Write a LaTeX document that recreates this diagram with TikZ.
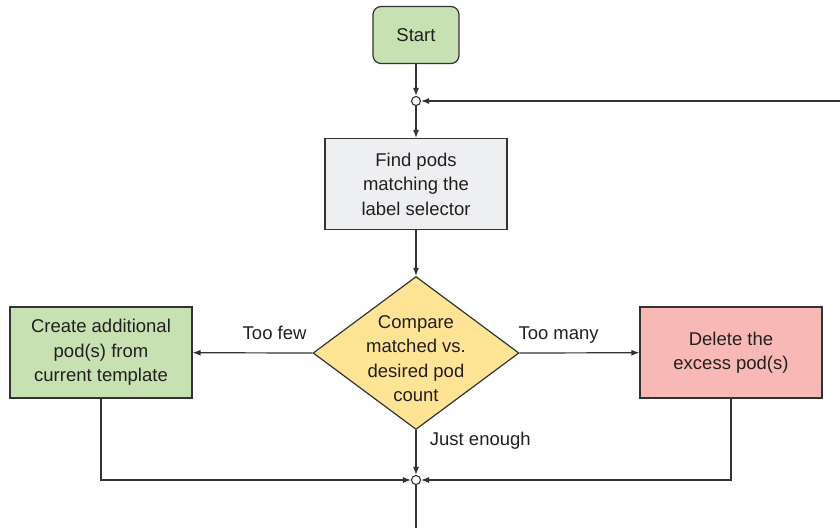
\documentclass[tikz,border=0pt]{standalone}
\usepackage{fontspec}
\setmainfont{Liberation Sans}
\usetikzlibrary{shapes.geometric,arrows.meta}
\definecolor{linegray}{RGB}{51,51,51}
\definecolor{textgray}{RGB}{35,31,32}
\definecolor{okgreen}{RGB}{199,225,178}
\definecolor{findgray}{RGB}{238,239,241}
\definecolor{cmpyellow}{RGB}{255,228,150}
\definecolor{delred}{RGB}{248,184,181}
\begin{document}
\begin{tikzpicture}[x=1pt,y=-1pt,
  every node/.style={font=\fontsize{18.5}{24.5}\selectfont,text=textgray},
  box/.style={draw=linegray,line width=1.2pt,align=center,inner sep=0pt,
    minimum width=182pt,minimum height=91pt},
  junction/.style={circle,draw=linegray,fill=white,line width=1.1pt,
    inner sep=0pt,minimum size=9pt},
  flow/.style={draw=linegray,line width=1.2pt,-{Latex[length=8pt,width=6pt]}},
  plain/.style={draw=linegray,line width=1.2pt}]
\useasboundingbox (0,0) rectangle (840,528);

\node[box,rounded corners=8pt,fill=okgreen,minimum width=86pt,minimum height=57pt] (start) at (416,35) {Start};
\node[junction] (top) at (416,101) {};
\coordinate (back) at (840,101);
\node[box,fill=findgray] (find) at (416,184) {Find pods\\matching the\\label selector};
\node[diamond,draw=linegray,line width=1.2pt,fill=cmpyellow,inner sep=0pt,
  minimum width=206pt,minimum height=153pt] (cmp) at (416,353) {};
\node[align=center] (cmptext) at (416,358.5) {Compare\\matched vs.\\desired pod\\count};
\node[box,fill=okgreen] (create) at (101,352.5) {Create additional\\pod(s) from\\current template};
\node[box,fill=delred] (delete) at (731,352.5) {Delete the\\excess pod(s)};
\node[junction] (bottom) at (416,480) {};
\coordinate (out) at (416,528);

\draw[flow] (start) -- (top);
\draw[flow] (back) -- (top);
\draw[flow] (top) -- (find);
\draw[flow] (find) -- (cmp.north);
\draw[flow] (cmp.west) -- node[at start,anchor=base east,xshift=-2pt,yshift=14pt] (few) {Too few} (create);
\draw[flow] (cmp.east) -- node[at start,anchor=base west,xshift=-5pt,yshift=14pt] (many) {Too many} (delete);
\draw[flow] (cmp.south) -- node[at start,anchor=base west,xshift=10pt,yshift=-15pt] (enough) {Just enough} (bottom);
\draw[flow] (create) |- (bottom);
\draw[flow] (delete) |- (bottom);
\draw[plain] (bottom) -- (out);
\end{tikzpicture}
\end{document}
